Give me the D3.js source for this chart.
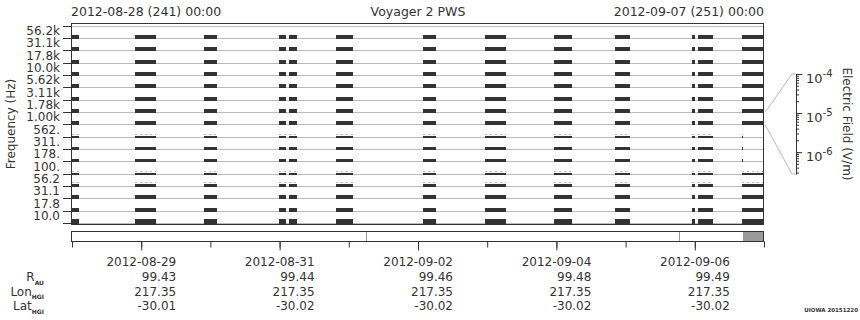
<!DOCTYPE html>
<html>
<head>
<meta charset="utf-8">
<script src="https://cdn.jsdelivr.net/npm/d3@7"></script>
<style>
body { margin: 0; background: #fff; }
svg, svg text { font-family: "DejaVu Sans", sans-serif; }
text { fill: #333; }
</style>
</head>
<body>
<svg id="chart" width="860" height="320"></svg>
<script>
var width = 860, height = 320;

var title = "Voyager 2 PWS";
var startLabel = "2012-08-28 (241) 00:00";
var endLabel = "2012-09-07 (251) 00:00";
var timeStart = "2012-08-28T00:00Z", timeEnd = "2012-09-07T00:00Z";

// frequency channels, top to bottom
var channels = ["56.2k", "31.1k", "17.8k", "10.0k", "5.62k", "3.11k", "1.78k", "1.00k",
                "562.", "311.", "178.", "100.", "56.2", "31.1", "17.8", "10.0"];
// relative signal level per channel (0..1)
var channelLevel = [0.8, 0.8, 0.8, 0.8, 0.8, 0.8, 0.8, 0.8, 0.5, 0.6, 0.6, 0.5, 0.6, 0.8, 0.8, 1.0];
// channels with weak extra signal above the bars
var faintChannels = ["562.", "100.", "56.2"];

// data intervals (UTC)
var segStart = ["2012-08-28T00:00", "2012-08-28T21:51", "2012-08-29T21:47", "2012-08-30T23:54",
                "2012-08-31T03:22", "2012-08-31T19:34", "2012-09-02T01:44", "2012-09-02T23:14",
                "2012-09-03T23:10", "2012-09-04T20:20", "2012-09-05T22:56", "2012-09-06T01:01",
                "2012-09-06T16:29"];
var segEnd   = ["2012-08-28T02:30", "2012-08-29T05:02", "2012-08-30T02:11", "2012-08-31T02:13",
                "2012-08-31T05:56", "2012-09-01T01:28", "2012-09-02T06:08", "2012-09-03T06:25",
                "2012-09-04T05:25", "2012-09-05T01:32", "2012-09-06T00:04", "2012-09-06T06:12",
                "2012-09-07T00:00"];
// in these channels the last interval is only a blip
var shortChannels = ["562.", "311.", "178."];
var shortEnd = "2012-09-06T16:50";

// coverage strip
var stripMarks = ["2012-09-01T05:58", "2012-09-05T18:32"];
var stripFill = ["2012-09-06T16:43", "2012-09-07T00:00"];

// ephemeris
var ephemDates = ["2012-08-29", "2012-08-31", "2012-09-02", "2012-09-04", "2012-09-06"];
var rAU = ["99.43", "99.44", "99.46", "99.48", "99.49"];
var lonHGI = ["217.35", "217.35", "217.35", "217.35", "217.35"];
var latHGI = ["-30.01", "-30.02", "-30.02", "-30.02", "-30.02"];

// colour bar (log, V/m) tied to one channel
var cbMin = 2.75e-7, cbMax = 1e-4;
var cbMajor = [1e-4, 1e-5, 1e-6];
var cbChannel = "1.00k";

var utc = function(s) { return new Date(s.length == 10 ? s + "T00:00Z" : s + (s.endsWith("Z") ? "" : "Z")); };

var svg = d3.select("#chart");

var x = d3.scaleUtc().domain([utc(timeStart), utc(timeEnd)]).range([72, 764]);
var y = d3.scaleBand().domain(channels).range([25.7, 223]);
var barH = d3.scaleLinear().domain([0, 1]).range([0, 5]);
var px = function(v) { return Math.round(v) + 0.5; };

// titles
svg.append("text").attr("x", 71).attr("y", 15.5).style("font-size", "12.5px").text(startLabel);
svg.append("text").attr("x", 764).attr("y", 15.5).style("font-size", "12.5px")
    .attr("text-anchor", "end").text(endLabel);
svg.append("text").attr("x", 418).attr("y", 16).style("font-size", "12.5px")
    .attr("text-anchor", "middle").text(title);

var plot = svg.append("g").attr("shape-rendering", "crispEdges");

// row lines
var rowLines = [y(channels[0])].concat(channels.map(function(c) { return y(c) + y.bandwidth(); }));
plot.selectAll(".row").data(rowLines).enter().append("line")
    .attr("x1", 72).attr("x2", 764)
    .attr("y1", function(d) { return px(d); }).attr("y2", function(d) { return px(d); })
    .attr("stroke", "#bbb");

// bars
var cells = [];
channels.forEach(function(c, ci) {
    segStart.forEach(function(s, si) {
        var e = segEnd[si];
        if (si == segStart.length - 1 && shortChannels.indexOf(c) >= 0) e = shortEnd;
        cells.push({ ch: c, lvl: channelLevel[ci], s: utc(s), e: utc(e) });
    });
});
plot.selectAll(".faint").data(cells.filter(function(d) { return faintChannels.indexOf(d.ch) >= 0; }))
    .enter().append("line")
    .attr("x1", function(d) { return x(d.s); }).attr("x2", function(d) { return x(d.e); })
    .attr("y1", function(d) { return px(y(d.ch) + y.bandwidth()) + 0.5 - barH(d.lvl) - 1.5; })
    .attr("y2", function(d) { return px(y(d.ch) + y.bandwidth()) + 0.5 - barH(d.lvl) - 1.5; })
    .attr("stroke", "#bbb").attr("stroke-dasharray", "2,3");
plot.selectAll(".bar").data(cells).enter().append("rect")
    .attr("x", function(d) { return x(d.s); })
    .attr("width", function(d) { return Math.max(1, x(d.e) - x(d.s)); })
    .attr("y", function(d) { return px(y(d.ch) + y.bandwidth()) + 0.5 - barH(d.lvl); })
    .attr("height", function(d) { return barH(d.lvl); })
    .attr("fill", "#333");

// frame
plot.append("rect").attr("x", 71.5).attr("y", 23.5).attr("width", 692).attr("height", 201)
    .attr("fill", "none").attr("stroke", "#333");

// y ticks and labels
var yt = svg.append("g").attr("shape-rendering", "crispEdges");
yt.selectAll("line").data(rowLines).enter().append("line")
    .attr("x1", 63).attr("x2", 71)
    .attr("y1", function(d) { return px(d); }).attr("y2", function(d) { return px(d); })
    .attr("stroke", "#333");
svg.append("g").selectAll("text").data(channels).enter().append("text")
    .attr("x", 60).attr("text-anchor", "end").style("font-size", "12px")
    .attr("y", function(d) { return y(d) + y.bandwidth() / 2 + 3; })
    .text(function(d) { return d; });
svg.append("text").style("font-size", "12px").attr("text-anchor", "middle")
    .attr("transform", "translate(15,124) rotate(-90)").text("Frequency (Hz)");

// colour bar
var cb = d3.scaleLog().domain([cbMin, cbMax]).range([174, 74]);
var cbx = 796;
var rowTop = px(y(cbChannel)), rowBot = px(y(cbChannel) + y.bandwidth());
svg.append("polyline").attr("fill", "none").attr("stroke", "#bbb")
    .attr("points", [[765, rowTop], [792, cb(cbMax)], [cbx, cb(cbMax)]].join(" "));
svg.append("polyline").attr("fill", "none").attr("stroke", "#bbb")
    .attr("points", [[765, rowBot], [792, cb(cbMin)], [cbx, cb(cbMin)]].join(" "));
var cbMinor = svg.append("g").attr("transform", "translate(" + cbx + ",0)")
    .call(d3.axisRight(cb).tickValues(cb.ticks()).tickSize(3).tickSizeOuter(0).tickFormat(""));
cbMinor.select(".domain").attr("stroke", "#333");
cbMinor.selectAll(".tick line").attr("stroke", "#333");
var cbAx = svg.append("g").attr("transform", "translate(" + cbx + ",0)")
    .call(d3.axisRight(cb).tickValues(cbMajor).tickSize(6).tickSizeOuter(0).tickFormat(""));
cbAx.select(".domain").remove();
cbAx.selectAll(".tick line").attr("stroke", "#333");
cbAx.selectAll(".tick text").remove();
cbAx.selectAll(".tick").append("text")
    .attr("x", 10).attr("y", 8).attr("fill", "#333")
    .style("font-size", "13px").style("font-family", "'DejaVu Sans', sans-serif")
    .text("10")
    .append("tspan").attr("dy", -5.5).style("font-size", "10px")
    .text(function(d) { return "-" + Math.round(-Math.log10(d)); });
svg.append("text").style("font-size", "12px").attr("text-anchor", "middle")
    .attr("transform", "translate(843,124) rotate(90)").text("Electric Field (V/m)");

// coverage strip
var strip = svg.append("g").attr("shape-rendering", "crispEdges");
strip.append("rect").attr("x", x(utc(stripFill[0]))).attr("y", 231)
    .attr("width", x(utc(stripFill[1])) - x(utc(stripFill[0]))).attr("height", 10)
    .attr("fill", "#999");
strip.selectAll(".mark").data(stripMarks).enter().append("line")
    .attr("x1", function(d) { return px(x(utc(d))); }).attr("x2", function(d) { return px(x(utc(d))); })
    .attr("y1", 231).attr("y2", 241).attr("stroke", "#999");
strip.append("rect").attr("x", 71.5).attr("y", 231.5).attr("width", 692).attr("height", 10)
    .attr("fill", "none").attr("stroke", "#333");

// time ticks
var days = d3.utcDay.range(utc(timeStart), d3.utcDay.offset(utc(timeEnd), 1));
var minorAx = svg.append("g").attr("transform", "translate(0,241.5)")
    .call(d3.axisBottom(x).tickValues(days).tickSize(6).tickSizeOuter(0).tickFormat(""));
minorAx.select(".domain").remove();
minorAx.selectAll(".tick line").attr("stroke", "#333");
var majorAx = svg.append("g").attr("transform", "translate(0,241.5)")
    .call(d3.axisBottom(x).tickValues(ephemDates.map(utc)).tickSize(9).tickSizeOuter(0).tickFormat(""));
majorAx.select(".domain").remove();
majorAx.selectAll(".tick line").attr("stroke", "#333");

// ephemeris table
var rows = [
    { vals: ephemDates, y: 266 },
    { vals: rAU, y: 281, lab: "R", sub: "AU" },
    { vals: lonHGI, y: 295.5, lab: "Lon", sub: "HGI" },
    { vals: latHGI, y: 310, lab: "Lat", sub: "HGI" }
];
rows.forEach(function(r) {
    svg.append("g").selectAll("text").data(r.vals).enter().append("text")
        .style("font-size", "12px").attr("text-anchor", "end")
        .attr("x", function(d, i) { return x(utc(ephemDates[i])) + 35; })
        .attr("y", r.y)
        .text(function(d) { return d; });
    if (r.lab) {
        var t = svg.append("text").attr("x", 44).attr("y", r.y).style("font-size", "12px")
            .attr("text-anchor", "end").text(r.lab);
        t.append("tspan").attr("dy", 3.5).style("font-size", "6px").attr("font-weight", "bold").text(r.sub);
    }
});

svg.append("text").attr("x", 858).attr("y", 311.5).attr("text-anchor", "end")
    .style("font-size", "5.5px").attr("font-weight", "bold").text("UIOWA 20151220");
</script>
</body>
</html>
